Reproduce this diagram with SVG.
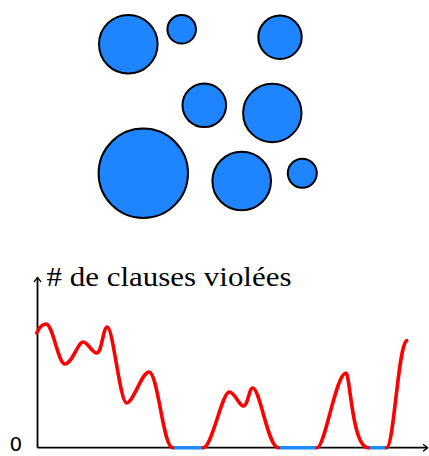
<svg xmlns="http://www.w3.org/2000/svg" width="429" height="456" viewBox="0 0 429 456">
<style>
.dot{fill:#1e84ff;stroke:#000;stroke-width:2}
.axis{fill:none;stroke:#000;stroke-width:1.8}
.red{fill:none;stroke:#ff0000;stroke-width:3.6;stroke-linecap:round;stroke-linejoin:round}
.blue{fill:none;stroke:#1e8cff;stroke-width:3.6}
.lbl{font-family:"Liberation Serif",serif;font-size:28px;fill:#000}
.zero{font-family:"DejaVu Sans",sans-serif;font-size:20px;fill:#000}
</style>
<defs>
<marker id="arr" viewBox="-6 -5 8 10" refX="0" refY="0" markerWidth="8" markerHeight="10" markerUnits="userSpaceOnUse" orient="auto">
<path d="M-4.5,-3.5 Q-1,-1 0,0 Q-1,1 -4.5,3.5" fill="none" stroke="#000" stroke-width="1.3"/>
</marker>
</defs>
<g id="c1"><circle class="dot" cx="128.3" cy="44.3" r="29.3"/></g>
<g id="c2"><circle class="dot" cx="181.7" cy="29.3" r="14.3"/></g>
<g id="c3"><circle class="dot" cx="280" cy="37.3" r="21.7"/></g>
<g id="c4"><circle class="dot" cx="204.3" cy="105.3" r="21.8"/></g>
<g id="c5"><circle class="dot" cx="272.3" cy="113" r="29.2"/></g>
<g id="c6"><circle class="dot" cx="143.3" cy="173.3" r="44.7"/></g>
<g id="c7"><circle class="dot" cx="241.7" cy="181" r="29.3"/></g>
<g id="c8"><circle class="dot" cx="302.3" cy="173.3" r="14.5"/></g>
<g id="connectors">
<path class="axis" d="M37.5,447.7 V277.5" marker-end="url(#arr)"/>
<path class="axis" d="M37.5,447.7 H427.5" marker-end="url(#arr)"/>
</g>
<g id="plot">
<path class="blue" d="M172.7,447.7 H203.3 M278.3,447.7 H317 M368.3,447.7 H386.5"/>
<path class="red" d="M36.7,333 C40,326 43,324 46,324 C53,324 58,364 65,364 C72,364 78,342 83,342 C88,342 92,353 96.7,353 C102,353 103,327 107.3,327 C113,327 120,403 126.7,403 C133,403 142,372 149,372 C158,372 163,447.7 172.7,447.7"/>
<path class="red" d="M203.3,447.7 C212,447.7 222,392 229.3,392 C235,392 239,406 243.3,406 C248,406 249,388 252.7,388 C260,388 268,447.7 278.3,447.7"/>
<path class="red" d="M317,447.7 C325,447.7 336,373 346,373 C350,373 352,447.7 368.3,447.7"/>
<path class="red" d="M386.5,447.7 C394,447.7 398,345 406.7,340.7"/>
</g>
<text class="lbl" x="46.5" y="285.5" textLength="245" lengthAdjust="spacingAndGlyphs"># de clauses violées</text>
<text class="zero" x="9.5" y="451">0</text>
</svg>
